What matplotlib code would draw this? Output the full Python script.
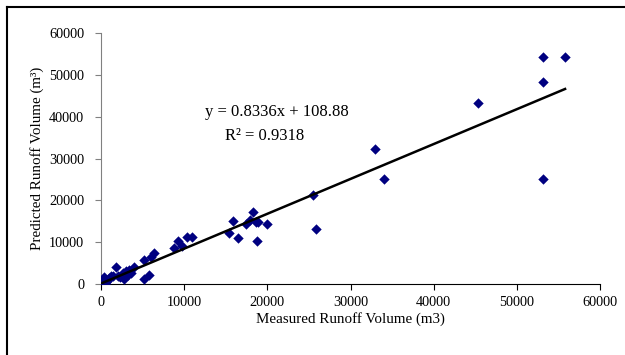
import numpy as np
import matplotlib.pyplot as plt
from matplotlib.lines import Line2D

# measured vs predicted runoff volume (m3)
measured = [0, 100, 200, 250, 300, 400, 500, 600, 800, 1000, 1200, 1500,
            1800, 2000, 2300, 2600, 2800, 3000, 3200, 3400, 3600, 4000,
            5200, 5800, 5200, 6000, 6400,
            8800, 9200, 9700, 10400, 11000,
            15400, 15900, 16500, 17400, 17900, 18300, 18600, 18800, 18900, 20000,
            25500, 25800, 33000, 34000, 45300, 53200, 53200, 53200, 55800]
predicted = [0, 300, 1200, 200, 800, 1700, 0, 500, 1000, 1500, 1800, 2000,
             4000, 2000, 1700, 2700, 1200, 3000, 2200, 3300, 2600, 4100,
             1300, 2100, 5700, 6500, 7300,
             8500, 10300, 9200, 11300, 11300,
             12200, 15100, 11000, 14400, 15300, 17200, 14800, 10300, 14800, 14400,
             21300, 13100, 32200, 25000, 43200, 54300, 48200, 25200, 54300]

slope = 0.8336
intercept = 108.88
x_ticks = [0, 10000, 20000, 30000, 40000, 50000, 60000]
y_ticks = [0, 10000, 20000, 30000, 40000, 50000, 60000]

plt.rcParams['font.family'] = ['Liberation Serif', 'DejaVu Serif']
plt.rcParams['font.size'] = 10

fig = plt.figure(figsize=(6.25, 3.55), dpi=100)
ax = fig.add_axes([0.1616, 0.2, 0.7984, 0.707])

ax.scatter(measured, predicted, marker='D', s=28, color='#000080',
           zorder=3, linewidths=0)

xs = np.array([min(measured), max(measured)])
ax.plot(xs, slope * xs + intercept, color='black', lw=1.8, zorder=4)

ax.text(0.353, 0.685, f"y = {slope}x + {intercept}", transform=ax.transAxes,
        ha='center', va='center', fontsize=12)
ax.text(0.328, 0.59, "R² = 0.9318", transform=ax.transAxes,
        ha='center', va='center', fontsize=12)

ax.set_xlim(0, 60000)
ax.set_ylim(0, 60000)
ax.set_xticks(x_ticks)
ax.set_yticks(y_ticks)
ax.tick_params(direction='out', length=4, width=0.8, colors='black',
               labelsize=10.3, pad=6)
ax.tick_params(axis='y', color='#808080', pad=8)
ax.tick_params(axis='x', pad=5)

for s in ['top', 'right']:
    ax.spines[s].set_visible(False)
ax.spines['left'].set_color('#808080')
ax.spines['bottom'].set_color('black')

ax.set_xlabel("Measured Runoff Volume (m3)", fontsize=10.8, labelpad=2)
ax.set_ylabel("Predicted Runoff Volume (m³)", fontsize=10.8, labelpad=4)

# outer frame (left and top edges visible in the original)
fig.add_artist(Line2D([7 / 625, 7 / 625], [0, 1 - 7 / 355],
                      transform=fig.transFigure, color='black', lw=1.5))
fig.add_artist(Line2D([7 / 625, 1], [1 - 7 / 355, 1 - 7 / 355],
                      transform=fig.transFigure, color='black', lw=1.5))

fig.savefig('out.png', dpi=100)
